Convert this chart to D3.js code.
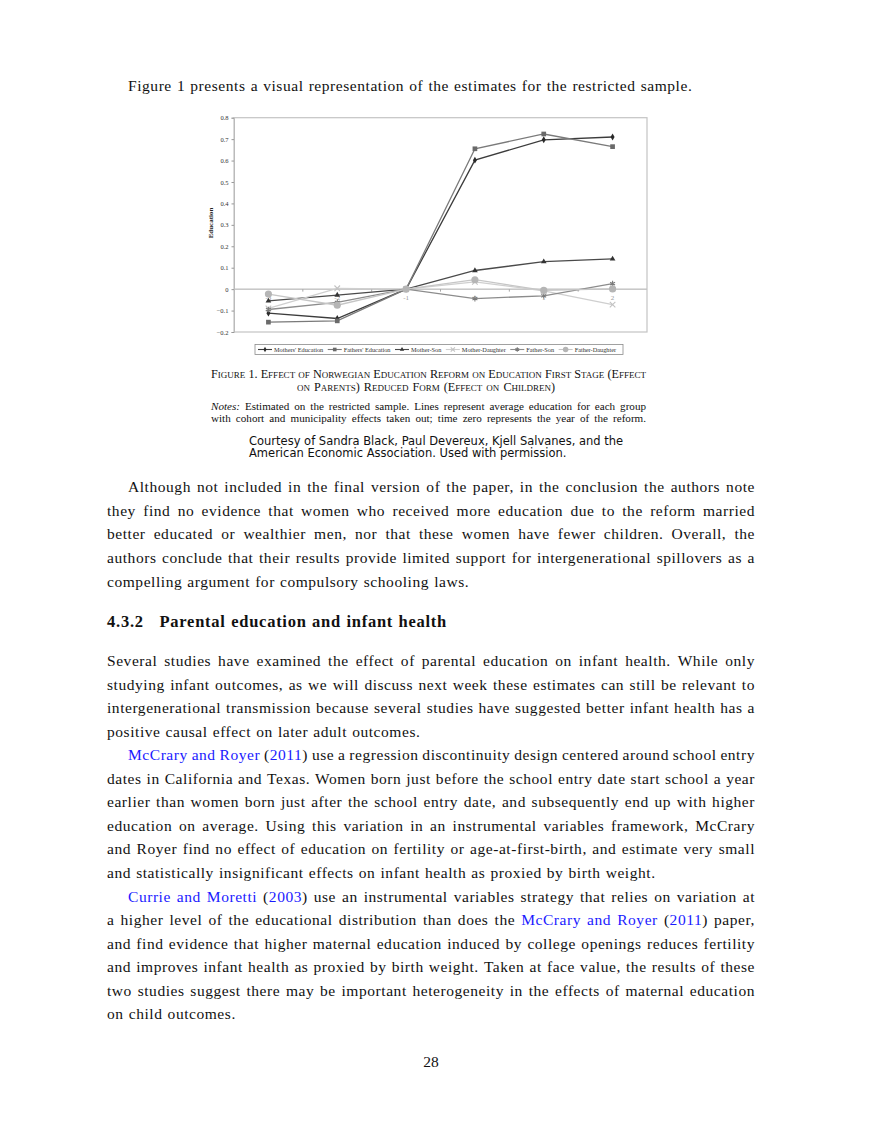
<!DOCTYPE html>
<html>
<head>
<meta charset="utf-8">
<script src="https://cdn.jsdelivr.net/npm/d3@7"></script>
<style>
  body { margin: 0; background: #fff; }
  svg { display: block; }
</style>
</head>
<body>
<svg id="page" width="880" height="1139"></svg>
<script>
/*
    Chart data
*/
const years = [-3, -2, -1, 0, 1, 2];
const yTicks = [0.8, 0.7, 0.6, 0.5, 0.4, 0.3, 0.2, 0.1, 0, -0.1, -0.2];
const seriesNames = ["Mothers' Education", "Fathers' Education", "Mother-Son",
                     "Mother-Daughter", "Father-Son", "Father-Daughter"];
const mothersEducation = [-0.112, -0.137, 0, 0.602, 0.697, 0.710];
const fathersEducation = [-0.154, -0.148, 0, 0.655, 0.724, 0.665];
const motherSon        = [-0.055, -0.028, 0, 0.087, 0.128, 0.141];
const motherDaughter   = [-0.090, 0.004, 0, 0.034, -0.008, -0.072];
const fatherSon        = [-0.095, -0.062, 0, -0.044, -0.031, 0.026];
const fatherDaughter   = [-0.023, -0.075, 0, 0.044, -0.006, 0.001];

/*
    Page text ({..} = link colour, *..* = italic)
*/
const introLine = "Figure 1 presents a visual representation of the estimates for the restricted sample.";
const captionTitle = ["Figure 1. Effect of Norwegian Education Reform on Education First Stage (Effect",
                      "on Parents) Reduced Form (Effect on Children)"];
const captionNotes = ["*Notes:* Estimated on the restricted sample. Lines represent average education for each group",
                      "with cohort and municipality effects taken out; time zero represents the year of the reform."];
const courtesy = ["Courtesy of Sandra Black, Paul Devereux, Kjell Salvanes, and the",
                  "American Economic Association. Used with permission."];
const paraA = [
  "Although not included in the final version of the paper, in the conclusion the authors note",
  "they find no evidence that women who received more education due to the reform married",
  "better educated or wealthier men, nor that these women have fewer children. Overall, the",
  "authors conclude that their results provide limited support for intergenerational spillovers as a",
  "compelling argument for compulsory schooling laws."
];
const heading = ["4.3.2", "Parental education and infant health"];
const paraB = [
  "Several studies have examined the effect of parental education on infant health. While only",
  "studying infant outcomes, as we will discuss next week these estimates can still be relevant to",
  "intergenerational transmission because several studies have suggested better infant health has a",
  "positive causal effect on later adult outcomes."
];
const paraC = [
  "{McCrary} {and} {Royer} ({2011}) use a regression discontinuity design centered around school entry",
  "dates in California and Texas. Women born just before the school entry date start school a year",
  "earlier than women born just after the school entry date, and subsequently end up with higher",
  "education on average. Using this variation in an instrumental variables framework, McCrary",
  "and Royer find no effect of education on fertility or age-at-first-birth, and estimate very small",
  "and statistically insignificant effects on infant health as proxied by birth weight."
];
const paraD = [
  "{Currie} {and} {Moretti} ({2003}) use an instrumental variables strategy that relies on variation at",
  "a higher level of the educational distribution than does the {McCrary} {and} {Royer} ({2011}) paper,",
  "and find evidence that higher maternal education induced by college openings reduces fertility",
  "and improves infant health as proxied by birth weight. Taken at face value, the results of these",
  "two studies suggest there may be important heterogeneity in the effects of maternal education",
  "on child outcomes."
];
const pageNumber = "28";

const svg = d3.select("#page");
svg.append("rect").attr("width", 880).attr("height", 1139).attr("fill", "#fff");

// Write one line word by word, stretching the spaces when justified
function writeLine(str, opt) {
    const g = svg.append("g");
    const words = str.split(" ").filter(w => w.length);
    const nodes = words.map(w => {
        const t = g.append("text")
            .attr("y", opt.y)
            .style("font-family", opt.family)
            .style("font-size", opt.size + "px")
            .style("font-weight", opt.weight || "normal")
            .style("font-variant", opt.variant || "normal")
            .style("letter-spacing", (opt.spacing || 0) + "px")
            .attr("fill", "#111");
        w.split(/(\{[^}]*\}|\*[^*]*\*)/).filter(s => s.length).forEach(seg => {
            const ts = t.append("tspan");
            if (seg[0] === "{") ts.text(seg.slice(1, -1)).attr("fill", "#1a1aff");
            else if (seg[0] === "*") ts.text(seg.slice(1, -1)).style("font-style", "italic");
            else ts.text(seg);
        });
        return t;
    });
    const widths = nodes.map(n => n.node().getComputedTextLength());
    const total = d3.sum(widths);
    let gap = opt.size * 0.33;
    if (opt.justify && words.length > 1) gap = (opt.right - opt.x - total) / (words.length - 1);
    let x = opt.x;
    if (opt.center) x = opt.center - (total + gap * (words.length - 1)) / 2;
    nodes.forEach((n, i) => {
        n.attr("x", x);
        x += widths[i] + gap;
    });
}

// Body paragraphs
const body = {family: "'Liberation Serif', 'Times New Roman', serif", size: 15.5, spacing: 0.55, right: 755};
const lineGap = 23.55;
function writePara(lines, y0, indent) {
    lines.forEach((l, i) => {
        writeLine(l, Object.assign({}, body, {
            x: (i === 0 && indent) ? 128 : 107,
            y: y0 + i * lineGap,
            justify: i < lines.length - 1
        }));
    });
}

writeLine(introLine, Object.assign({}, body, {x: 128, y: 90.7}));
writePara(paraA, 492.3, true);
const headFont = Object.assign({}, body, {y: 626.7, size: 16.5, spacing: 0.75, weight: "bold"});
writeLine(heading[0], Object.assign({}, headFont, {x: 107}));
writeLine(heading[1], Object.assign({}, headFont, {x: 159.5}));
writePara(paraB, 666, false);
writePara(paraC, 666 + 4 * lineGap, true);
writePara(paraD, 666 + 10 * lineGap, true);
svg.append("text")
    .attr("x", 431).attr("y", 1067)
    .attr("text-anchor", "middle")
    .style("font-family", body.family).style("font-size", "15.5px")
    .attr("fill", "#111")
    .text(pageNumber);

// Caption
const cap = {family: "'Liberation Serif', 'Times New Roman', serif", size: 11.1, x: 211, right: 646};
writeLine(captionTitle[0], Object.assign({}, cap, {y: 377.7, size: 12.2, variant: "small-caps", justify: true}));
writeLine(captionTitle[1], Object.assign({}, cap, {y: 390.7, size: 12.2, variant: "small-caps", center: 426}));
writeLine(captionNotes[0], Object.assign({}, cap, {y: 410, justify: true}));
writeLine(captionNotes[1], Object.assign({}, cap, {y: 422, justify: true}));
courtesy.forEach((l, i) => {
    svg.append("text")
        .attr("x", 249).attr("y", 445 + i * 12)
        .style("font-family", "'DejaVu Sans', sans-serif").style("font-size", "11.5px")
        .attr("fill", "#111")
        .text(l);
});

/*
    Chart
*/
const plot = {left: 234, right: 647, top: 117.7, bottom: 332};
const xScale = d3.scaleBand().domain(years).range([plot.left, plot.right]);
const yScale = d3.scaleLinear().domain([-0.2, 0.8]).range([plot.bottom, plot.top]);
const cx = d => xScale(d) + xScale.bandwidth() / 2;
const chartFont = "'Liberation Serif', 'Times New Roman', serif";

const chart = svg.append("g");

// Zero line with category ticks
chart.append("line")
    .attr("x1", plot.left).attr("x2", plot.right)
    .attr("y1", yScale(0)).attr("y2", yScale(0))
    .attr("stroke", "#a8a8a8").attr("stroke-width", 1);
chart.selectAll(".xtick")
    .data(years.slice(1))
    .enter().append("line")
    .attr("x1", d => xScale(d)).attr("x2", d => xScale(d))
    .attr("y1", yScale(0)).attr("y2", yScale(0) + 2.5)
    .attr("stroke", "#a8a8a8");
chart.selectAll(".xlab")
    .data(years)
    .enter().append("text")
    .attr("x", cx)
    .attr("y", yScale(0) + 11)
    .attr("text-anchor", "middle")
    .style("font-family", chartFont).style("font-size", "7px")
    .attr("fill", "#999")
    .text(d => d);

// Frame and y axis
chart.append("rect")
    .attr("x", plot.left).attr("y", plot.top)
    .attr("width", plot.right - plot.left).attr("height", plot.bottom - plot.top)
    .attr("fill", "none").attr("stroke", "#c4c4c4").attr("stroke-width", 1.2);
const yAxis = chart.append("g")
    .attr("transform", `translate(${plot.left},0)`)
    .call(d3.axisLeft(yScale).tickValues(yTicks).tickSize(2.5).tickPadding(3)
        .tickFormat(d => d === 0 ? "0" : d3.format(".1f")(d)));
yAxis.select(".domain").attr("stroke", "#bbb");
yAxis.selectAll(".tick line").attr("stroke", "#999");
yAxis.selectAll(".tick text")
    .style("font-family", chartFont).style("font-size", "6.5px").attr("fill", "#333");
chart.append("text")
    .attr("transform", `translate(212.5, 223) rotate(-90)`)
    .attr("text-anchor", "middle")
    .style("font-family", chartFont).style("font-size", "7px").style("font-weight", "bold")
    .attr("fill", "#222")
    .text("Education");

// Series
const seriesValues = [mothersEducation, fathersEducation, motherSon, motherDaughter, fatherSon, fatherDaughter];
const symX = d3.symbolTimes || d3.symbolCross;
const symStar = d3.symbolAsterisk || d3.symbolCross;
const seriesStyle = [
    {stroke: "#3c3c3c", mark: d3.symbolDiamond, size: 14, fill: "#2a2a2a", hollow: false},
    {stroke: "#7a7a7a", mark: d3.symbolSquare, size: 22, fill: "#6a6a6a", hollow: false},
    {stroke: "#4a4a4a", mark: d3.symbolTriangle, size: 14, fill: "#333", hollow: false},
    {stroke: "#cfcfcf", mark: symX, size: 22, fill: "#c2c2c2", hollow: !!d3.symbolTimes},
    {stroke: "#8c8c8c", mark: symStar, size: 22, fill: "#7a7a7a", hollow: !!d3.symbolAsterisk},
    {stroke: "#c6c6c6", mark: d3.symbolCircle, size: 40, fill: "#b5b5b5", hollow: false}
];
const series = seriesNames.map((name, i) => ({name, values: seriesValues[i], style: seriesStyle[i]}));

const line = d3.line()
    .x((d, i) => cx(years[i]))
    .y(d => yScale(d));

series.forEach(s => {
    chart.append("path")
        .datum(s.values)
        .attr("d", line)
        .attr("fill", "none")
        .attr("stroke", s.style.stroke)
        .attr("stroke-width", 1.3);
});
function drawMark(sel, st) {
    sel.attr("d", d3.symbol().type(st.mark).size(st.size))
        .attr("fill", st.hollow ? "none" : st.fill)
        .attr("stroke", st.hollow ? st.fill : "none")
        .attr("stroke-width", st.hollow ? 1.1 : 0);
}
series.forEach(s => {
    chart.selectAll(null)
        .data(s.values)
        .enter().append("path")
        .attr("transform", (d, i) => `translate(${cx(years[i])},${yScale(d)})`)
        .call(drawMark, s.style);
});

// Legend
const legend = chart.append("g");
legend.append("rect")
    .attr("x", 255).attr("y", 344.5).attr("width", 368).attr("height", 10)
    .attr("fill", "#fff").attr("stroke", "#8a8a8a").attr("stroke-width", 0.8);
let lx = 258;
series.forEach(s => {
    legend.append("line")
        .attr("x1", lx).attr("x2", lx + 14)
        .attr("y1", 349.5).attr("y2", 349.5)
        .attr("stroke", s.style.stroke).attr("stroke-width", 1.1);
    legend.append("path")
        .attr("transform", `translate(${lx + 7},349.5)`)
        .call(drawMark, Object.assign({}, s.style, {size: s.style.size * 0.6}));
    const t = legend.append("text")
        .attr("x", lx + 16).attr("y", 351.8)
        .style("font-family", chartFont).style("font-size", "6.3px")
        .attr("fill", "#333")
        .text(s.name);
    lx += 16 + t.node().getComputedTextLength() + 4.5;
});
</script>
</body>
</html>
